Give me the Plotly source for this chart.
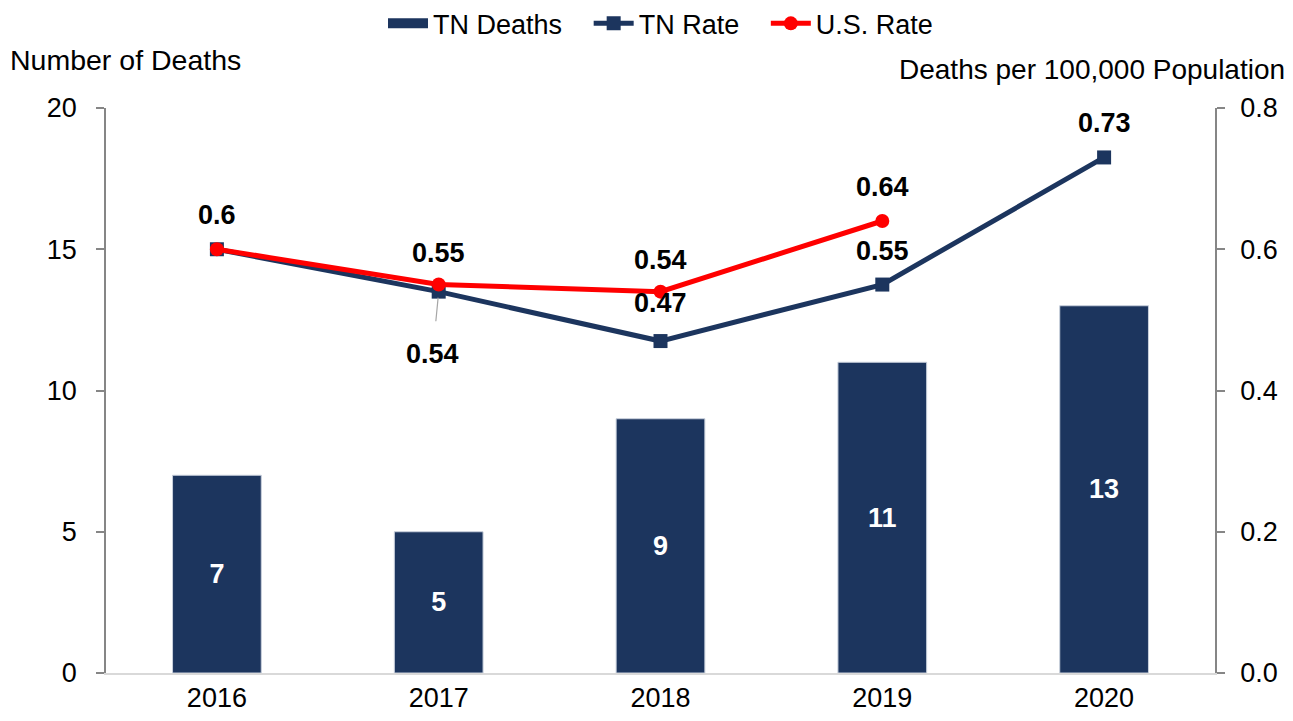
import plotly.graph_objects as go

years = ["2016", "2017", "2018", "2019", "2020"]
tn_deaths = [7, 5, 9, 11, 13]
tn_rate = [0.60, 0.54, 0.47, 0.55, 0.73]
us_years = ["2016", "2017", "2018", "2019"]
us_rate = [0.60, 0.55, 0.54, 0.64]

# label placement (pixel offsets) for the rate labels
tn_label_shift = [34, None, 38, 34, 34]
us_label_shift = [None, 32, 32, 34]

NAVY = "#1c355e"
RED = "#ff0000"
FONT = "Liberation Sans, Arial, sans-serif"
GAP = "\u2009\u2009\u2009\u2009"

fig = go.Figure()

# legend swatch for the bars (wide block, as in the legend style)
fig.add_trace(go.Scatter(
    x=[None], y=[None], name="TN Deaths" + GAP, mode="lines",
    line=dict(color=NAVY, width=14), yaxis="y",
))

fig.add_trace(go.Bar(
    x=years, y=tn_deaths, name="TN Deaths", showlegend=False,
    marker=dict(color=NAVY, line=dict(color="#c8d0dc", width=1)),
    width=0.4,
    text=[str(v) for v in tn_deaths], textposition="inside",
    insidetextanchor="middle",
    textfont=dict(color="white", size=27, family=FONT, weight="bold"),
    yaxis="y",
))

fig.add_trace(go.Scatter(
    x=years, y=tn_rate, name="TN Rate" + GAP, mode="lines+markers",
    line=dict(color=NAVY, width=5),
    marker=dict(symbol="square", size=14, color=NAVY),
    yaxis="y2",
))

fig.add_trace(go.Scatter(
    x=us_years, y=us_rate, name="U.S. Rate", mode="lines+markers",
    line=dict(color=RED, width=5),
    marker=dict(symbol="circle", size=14, color=RED),
    yaxis="y2",
))

annotations = []
lab_font = dict(size=27, color="black", family=FONT, weight="bold")
for i, (v, s) in enumerate(zip(tn_rate, tn_label_shift)):
    if s is None:
        annotations.append(dict(
            x=i, y=v, xref="x", yref="y2", text=f"{v:g}", showarrow=True,
            arrowhead=0, arrowwidth=1.2, arrowcolor="#a6a6a6",
            ax=-6, ay=62, standoff=6, startstandoff=16, font=lab_font))
    else:
        annotations.append(dict(
            x=i, y=v, xref="x", yref="y2", text=f"{v:g}", showarrow=False,
            yshift=s, font=lab_font))
for i, (v, s) in enumerate(zip(us_rate, us_label_shift)):
    if s is None:
        continue
    annotations.append(dict(
        x=i, y=v, xref="x", yref="y2", text=f"{v:g}", showarrow=False,
        yshift=s, font=lab_font))

annotations.append(dict(
    x=-0.088, y=1.085, xref="paper", yref="paper", text="Number of Deaths",
    showarrow=False, xanchor="left", yanchor="middle",
    font=dict(size=28.5, color="black", family=FONT)))
annotations.append(dict(
    x=1.065, y=1.069, xref="paper", yref="paper", text="Deaths per 100,000 Population",
    showarrow=False, xanchor="right", yanchor="middle",
    font=dict(size=28, color="black", family=FONT)))

fig.update_layout(
    width=1293, height=721,
    margin=dict(l=106, r=78, t=108, b=48, autoexpand=False),
    paper_bgcolor="white", plot_bgcolor="white",
    font=dict(family=FONT, size=27, color="black"),
    showlegend=True,
    legend=dict(orientation="h", x=0.5, xanchor="center", y=0.967, yanchor="middle",
                yref="container", font=dict(size=27, family=FONT, color="black"),
                itemwidth=40, traceorder="normal"),
    xaxis=dict(type="category", range=[-0.5, 4.5], showgrid=False, showline=True,
               linecolor="#d9d9d9", linewidth=2, ticks="", automargin=False,
               tickfont=dict(size=27, family=FONT)),
    yaxis=dict(range=[0, 20], dtick=5, showgrid=False, zeroline=False,
               showline=True, linecolor="#868686", linewidth=1.5, automargin=False,
               ticks="outside", ticklen=8, tickcolor="#868686", tickwidth=1.5,
               tickfont=dict(size=27, family=FONT), ticklabelstandoff=14),
    yaxis2=dict(range=[0, 0.8], dtick=0.2, tickformat=".1f", overlaying="y",
                side="right", showgrid=False, zeroline=False, automargin=False,
                showline=True, linecolor="#868686", linewidth=1.5,
                ticks="outside", ticklen=8, tickcolor="#868686", tickwidth=1.5,
                tickfont=dict(size=27, family=FONT), ticklabelstandoff=10),
    annotations=annotations,
)

fig.write_html("out.html")
